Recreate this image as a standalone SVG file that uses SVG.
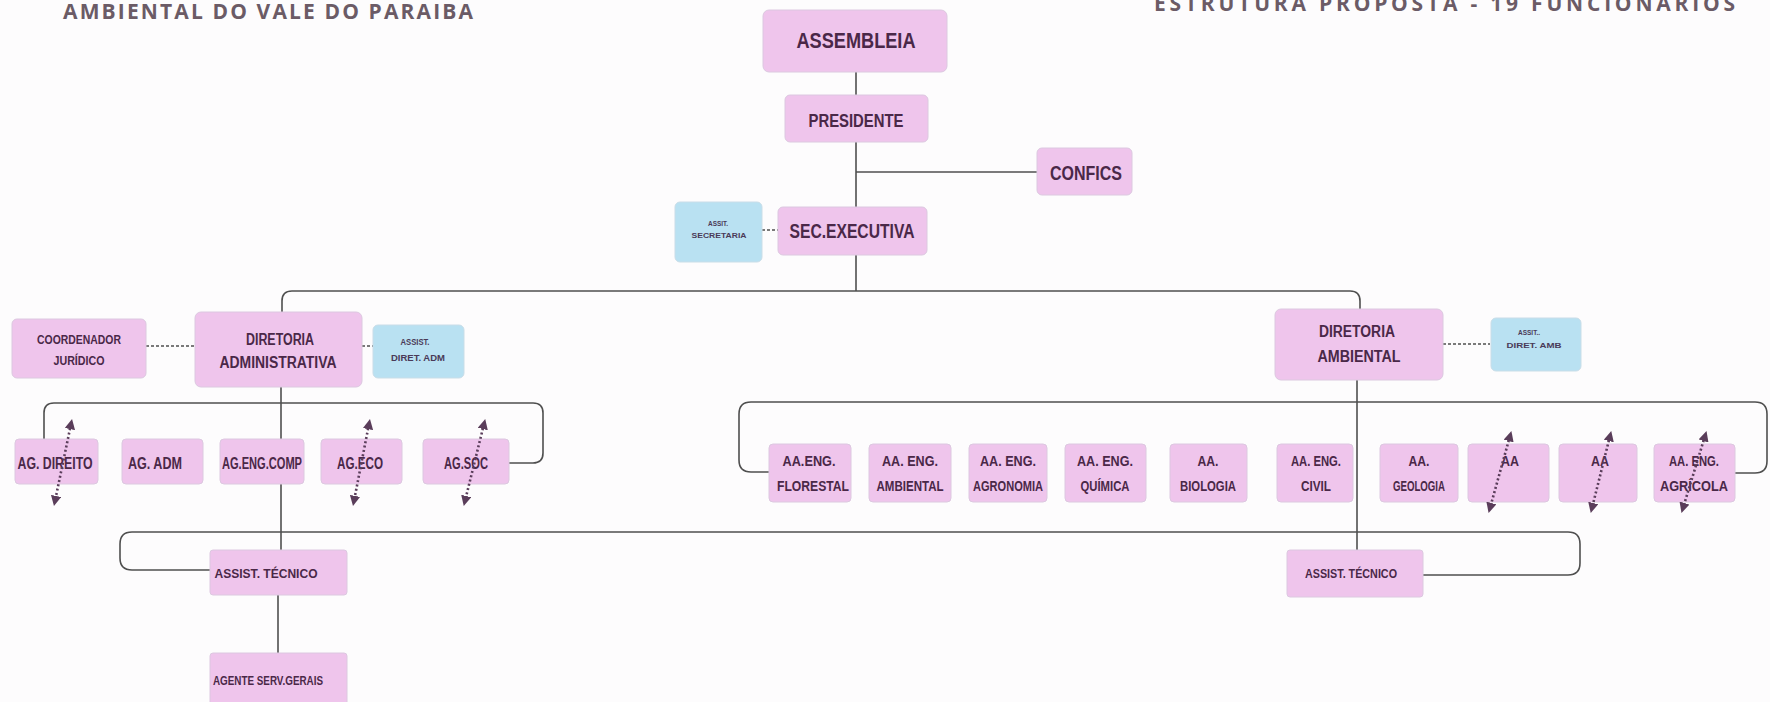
<svg xmlns="http://www.w3.org/2000/svg" width="1770" height="702" viewBox="0 0 1770 702">
<defs>
<style>
.bg{fill:#fdfcfd}
.p{fill:#efc5ec;stroke:#dcc8e0;stroke-width:1}
.b{fill:#b9e1f2;stroke:#c9dde8;stroke-width:1}
.t{font-family:"Liberation Sans",Arial,sans-serif;font-weight:bold;fill:#4a2848;text-anchor:middle}
.ts{font-family:"Liberation Sans",Arial,sans-serif;font-weight:bold;fill:#4a3a58;text-anchor:middle}
.hd{font-family:"Open Sans","Liberation Sans",sans-serif;font-weight:bold;fill:#6b5b66}
.ln{fill:none;stroke:#4f4f4f;stroke-width:1.6}
.dl{fill:none;stroke:#4f4f4f;stroke-width:1.4;stroke-dasharray:3 2}
.ar{fill:none;stroke:#5a3d5a;stroke-width:2.6;stroke-dasharray:2 2.4}
</style>
<marker id="ah" viewBox="0 0 10 10" refX="5" refY="5" markerWidth="4" markerHeight="4" orient="auto-start-reverse" markerUnits="strokeWidth">
<path d="M0,0 L10,5 L0,10 z" fill="#5a3d5a"/>
</marker>
</defs>
<rect class="bg" x="0" y="0" width="1770" height="702"/>

<text class="hd" x="63" y="19" font-size="21" textLength="410" lengthAdjust="spacing">AMBIENTAL DO VALE DO PARAIBA</text>
<text class="hd" x="1154" y="11" font-size="21" textLength="581" lengthAdjust="spacing">ESTRUTURA PROPOSTA - 19 FUNCIONARIOS</text>

<g id="connectors">
<path class="ln" d="M856,72 V95"/>
<path class="ln" d="M856,142 V207"/>
<path class="ln" d="M856,172 H1037"/>
<path class="dl" d="M762,230 H778"/>
<path class="ln" d="M856,255 V291"/>
<path class="ln" d="M282,312 V301 Q282,291 292,291 H1350 Q1360,291 1360,301 V309"/>
<path class="dl" d="M146,346 H195"/>
<path class="dl" d="M362,346 H373"/>
<path class="dl" d="M1443,344 H1490"/>
<path class="ln" d="M281,387 V550"/>
<path class="ln" d="M44,440 V413 Q44,403 54,403 H533 Q543,403 543,413 V453 Q543,463 533,463 H509"/>
<path class="ln" d="M1357,380 V550"/>
<path class="ln" d="M769,472 H751 Q739,472 739,460 V414 Q739,402 751,402 H1755 Q1767,402 1767,414 V461 Q1767,473 1755,473 H1735"/>
<path class="ln" d="M210,570 H132 Q120,570 120,558 V544 Q120,532 132,532 H1568 Q1580,532 1580,544 V563 Q1580,575 1568,575 H1423"/>
<path class="ln" d="M278,595 V653"/>
</g>

<g id="assembleia"><rect class="p" x="763" y="10" width="184" height="62" rx="6"/><text class="t" x="856" y="48" font-size="22" textLength="119" lengthAdjust="spacingAndGlyphs">ASSEMBLEIA</text></g>
<g id="presidente"><rect class="p" x="785" y="95" width="143" height="47" rx="5"/><text class="t" x="856" y="127" font-size="19" textLength="95" lengthAdjust="spacingAndGlyphs">PRESIDENTE</text></g>
<g id="confics"><rect class="p" x="1037" y="148" width="95" height="47" rx="5"/><text class="t" x="1086" y="180" font-size="20" textLength="72" lengthAdjust="spacingAndGlyphs">CONFICS</text></g>
<g id="sec-executiva"><rect class="p" x="778" y="207" width="149" height="48" rx="5"/><text class="t" x="852" y="238" font-size="21" textLength="125" lengthAdjust="spacingAndGlyphs">SEC.EXECUTIVA</text></g>
<g id="assist-secretaria"><rect class="b" x="675" y="202" width="87" height="60" rx="5"/><text class="ts" x="718" y="226" font-size="7.5" textLength="20" lengthAdjust="spacingAndGlyphs">ASSIT.</text><text class="ts" x="719" y="238" font-size="7.5" textLength="55" lengthAdjust="spacingAndGlyphs">SECRETARIA</text></g>

<g id="coordenador-juridico"><rect class="p" x="12" y="319" width="134" height="59" rx="5"/><text class="t" x="79" y="344" font-size="13" textLength="84" lengthAdjust="spacingAndGlyphs">COORDENADOR</text><text class="t" x="79" y="365" font-size="13" textLength="51" lengthAdjust="spacingAndGlyphs">JURÍDICO</text></g>
<g id="diretoria-administrativa"><rect class="p" x="195" y="312" width="167" height="75" rx="6"/><text class="t" x="280" y="345" font-size="16" textLength="68" lengthAdjust="spacingAndGlyphs">DIRETORIA</text><text class="t" x="278" y="368" font-size="16" textLength="117" lengthAdjust="spacingAndGlyphs">ADMINISTRATIVA</text></g>
<g id="assist-diret-adm"><rect class="b" x="373" y="325" width="91" height="53" rx="5"/><text class="ts" x="415" y="345" font-size="8.5" textLength="29" lengthAdjust="spacingAndGlyphs">ASSIST.</text><text class="ts" x="418" y="361" font-size="8.5" textLength="54" lengthAdjust="spacingAndGlyphs">DIRET. ADM</text></g>
<g id="diretoria-ambiental"><rect class="p" x="1275" y="309" width="168" height="71" rx="6"/><text class="t" x="1357" y="337" font-size="16" textLength="76" lengthAdjust="spacingAndGlyphs">DIRETORIA</text><text class="t" x="1359" y="362" font-size="16" textLength="83" lengthAdjust="spacingAndGlyphs">AMBIENTAL</text></g>
<g id="assist-diret-amb"><rect class="b" x="1491" y="318" width="90" height="53" rx="5"/><text class="ts" x="1529" y="335" font-size="8" textLength="22" lengthAdjust="spacingAndGlyphs">ASSIT..</text><text class="ts" x="1534" y="348" font-size="8" textLength="55" lengthAdjust="spacingAndGlyphs">DIRET. AMB</text></g>

<g id="ag-direito"><rect class="p" x="15" y="439" width="83" height="45" rx="4"/><text class="t" x="55" y="469" font-size="16" textLength="75" lengthAdjust="spacingAndGlyphs">AG. DIREITO</text></g>
<g id="ag-adm"><rect class="p" x="122" y="439" width="81" height="45" rx="4"/><text class="t" x="155" y="469" font-size="16" textLength="54" lengthAdjust="spacingAndGlyphs">AG. ADM</text></g>
<g id="ag-eng-comp"><rect class="p" x="220" y="439" width="84" height="45" rx="4"/><text class="t" x="262" y="469" font-size="16" textLength="80" lengthAdjust="spacingAndGlyphs">AG.ENG.COMP</text></g>
<g id="ag-eco"><rect class="p" x="321" y="439" width="81" height="45" rx="4"/><text class="t" x="360" y="469" font-size="16" textLength="46" lengthAdjust="spacingAndGlyphs">AG.ECO</text></g>
<g id="ag-soc"><rect class="p" x="423" y="439" width="86" height="45" rx="4"/><text class="t" x="466" y="469" font-size="16" textLength="44" lengthAdjust="spacingAndGlyphs">AG.SOC</text></g>

<g id="aa-eng-florestal"><rect class="p" x="769" y="444" width="82" height="58" rx="4"/><text class="t" x="809" y="466" font-size="14" textLength="53" lengthAdjust="spacingAndGlyphs">AA.ENG.</text><text class="t" x="813" y="491" font-size="14" textLength="72" lengthAdjust="spacingAndGlyphs">FLORESTAL</text></g>
<g id="aa-eng-ambiental"><rect class="p" x="869" y="444" width="82" height="58" rx="4"/><text class="t" x="910" y="466" font-size="14" textLength="56" lengthAdjust="spacingAndGlyphs">AA. ENG.</text><text class="t" x="910" y="491" font-size="14" textLength="67" lengthAdjust="spacingAndGlyphs">AMBIENTAL</text></g>
<g id="aa-eng-agronomia"><rect class="p" x="969" y="444" width="78" height="58" rx="4"/><text class="t" x="1008" y="466" font-size="14" textLength="56" lengthAdjust="spacingAndGlyphs">AA. ENG.</text><text class="t" x="1008" y="491" font-size="14" textLength="70" lengthAdjust="spacingAndGlyphs">AGRONOMIA</text></g>
<g id="aa-eng-quimica"><rect class="p" x="1065" y="444" width="81" height="58" rx="4"/><text class="t" x="1105" y="466" font-size="14" textLength="56" lengthAdjust="spacingAndGlyphs">AA. ENG.</text><text class="t" x="1105" y="491" font-size="14" textLength="49" lengthAdjust="spacingAndGlyphs">QUÍMICA</text></g>
<g id="aa-biologia"><rect class="p" x="1170" y="444" width="77" height="58" rx="4"/><text class="t" x="1208" y="466" font-size="14" textLength="21" lengthAdjust="spacingAndGlyphs">AA.</text><text class="t" x="1208" y="491" font-size="14" textLength="56" lengthAdjust="spacingAndGlyphs">BIOLOGIA</text></g>
<g id="aa-eng-civil"><rect class="p" x="1277" y="444" width="76" height="58" rx="4"/><text class="t" x="1316" y="466" font-size="14" textLength="50" lengthAdjust="spacingAndGlyphs">AA. ENG.</text><text class="t" x="1316" y="491" font-size="14" textLength="30" lengthAdjust="spacingAndGlyphs">CIVIL</text></g>
<g id="aa-geologia"><rect class="p" x="1380" y="444" width="78" height="58" rx="4"/><text class="t" x="1419" y="466" font-size="14" textLength="21" lengthAdjust="spacingAndGlyphs">AA.</text><text class="t" x="1419" y="491" font-size="14" textLength="52" lengthAdjust="spacingAndGlyphs">GEOLOGIA</text></g>
<g id="aa-1"><rect class="p" x="1468" y="444" width="81" height="58" rx="4"/><text class="t" x="1510" y="466" font-size="14" textLength="18" lengthAdjust="spacingAndGlyphs">AA</text></g>
<g id="aa-2"><rect class="p" x="1559" y="444" width="78" height="58" rx="4"/><text class="t" x="1600" y="466" font-size="14" textLength="18" lengthAdjust="spacingAndGlyphs">AA</text></g>
<g id="aa-eng-agricola"><rect class="p" x="1654" y="444" width="81" height="58" rx="4"/><text class="t" x="1694" y="466" font-size="14" textLength="50" lengthAdjust="spacingAndGlyphs">AA. ENG.</text><text class="t" x="1694" y="491" font-size="14" textLength="68" lengthAdjust="spacingAndGlyphs">AGRÍCOLA</text></g>

<g id="assist-tecnico-adm"><rect class="p" x="210" y="550" width="137" height="45" rx="3"/><text class="t" x="266" y="578" font-size="13" textLength="103" lengthAdjust="spacingAndGlyphs">ASSIST. TÉCNICO</text></g>
<g id="agente-serv-gerais"><rect class="p" x="210" y="653" width="137" height="52" rx="3"/><text class="t" x="268" y="685" font-size="13" textLength="110" lengthAdjust="spacingAndGlyphs">AGENTE SERV.GERAIS</text></g>
<g id="assist-tecnico-amb"><rect class="p" x="1287" y="550" width="136" height="47" rx="3"/><text class="t" x="1351" y="578" font-size="13" textLength="92" lengthAdjust="spacingAndGlyphs">ASSIST. TÉCNICO</text></g>

<g id="arrows">
<path class="ar" d="M71,424 L55,501" marker-start="url(#ah)" marker-end="url(#ah)"/>
<path class="ar" d="M369,424 L354,501" marker-start="url(#ah)" marker-end="url(#ah)"/>
<path class="ar" d="M484,424 L465,501" marker-start="url(#ah)" marker-end="url(#ah)"/>
<path class="ar" d="M1510,436 L1490,508" marker-start="url(#ah)" marker-end="url(#ah)"/>
<path class="ar" d="M1610,436 L1592,508" marker-start="url(#ah)" marker-end="url(#ah)"/>
<path class="ar" d="M1705,436 L1683,508" marker-start="url(#ah)" marker-end="url(#ah)"/>
</g>
</svg>
